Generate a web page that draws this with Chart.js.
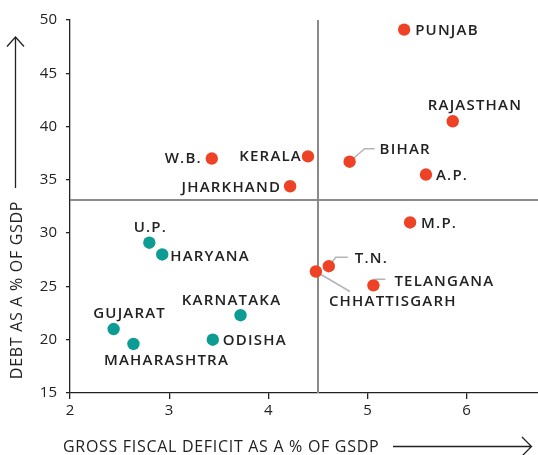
<!DOCTYPE html>
<html>
<head>
<meta charset="utf-8">
<script src="https://cdn.jsdelivr.net/npm/chart.js@4"></script>
<style>
  html, body { margin: 0; padding: 0; background: #fff; }
  #wrap { width: 538px; height: 455px; }
</style>
</head>
<body>
<div id="wrap"><canvas id="chart" width="538" height="455"></canvas></div>
<script>
// High debt or high deficit states (red)
const redStates = ['PUNJAB', 'RAJASTHAN', 'BIHAR', 'A.P.', 'KERALA', 'W.B.', 'JHARKHAND', 'M.P.', 'T.N.', 'CHHATTISGARH', 'TELANGANA'];
const redDeficit = [5.37, 5.86, 4.82, 5.59, 4.40, 3.43, 4.22, 5.43, 4.61, 4.48, 5.06];
const redDebt = [49.1, 40.5, 36.7, 35.5, 37.2, 37.0, 34.4, 31.0, 26.9, 26.4, 25.1];

// Low debt, low deficit states (teal)
const tealStates = ['U.P.', 'HARYANA', 'KARNATAKA', 'GUJARAT', 'ODISHA', 'MAHARASHTRA'];
const tealDeficit = [2.80, 2.93, 3.72, 2.44, 3.44, 2.64];
const tealDebt = [29.1, 28.0, 22.3, 21.0, 20.0, 19.6];

const xTicks = [2, 3, 4, 5, 6];
const yTicks = [15, 20, 25, 30, 35, 40, 45, 50];

// Quadrant reference lines
const refDeficit = 4.5;
const refDebt = 33.1;

const RED = '#ee4227';
const TEAL = '#0c9c94';
const INK = '#222';
const FONT = '"Open Sans", "Noto Sans", sans-serif';

// Label placement relative to each dot (pixels)
const placement = {
    'PUNJAB': { align: 'left', dx: 11, dy: 1 },
    'RAJASTHAN': { align: 'left', dx: -25, dy: -16 },
    'BIHAR': { align: 'left', dx: 30, dy: -12, leader: [[15, -13], [25, -13]] },
    'A.P.': { align: 'left', dx: 10, dy: 1 },
    'KERALA': { align: 'right', dx: -6, dy: 0 },
    'W.B.': { align: 'right', dx: -10, dy: 0 },
    'JHARKHAND': { align: 'right', dx: -9, dy: 1 },
    'M.P.': { align: 'left', dx: 11, dy: 1.5 },
    'T.N.': { align: 'left', dx: 26, dy: -7, leader: [[7, -9], [19, -9]] },
    'CHHATTISGARH': { align: 'left', dx: 13, dy: 30, leader: [[34, 20]] },
    'TELANGANA': { align: 'left', dx: 21, dy: -4, leader: [[2, -6], [12, -6]] },
    'U.P.': { align: 'center', dx: 1, dy: -15 },
    'HARYANA': { align: 'left', dx: 8, dy: 2 },
    'KARNATAKA': { align: 'center', dx: -9, dy: -14.5 },
    'GUJARAT': { align: 'center', dx: 16, dy: -15.5 },
    'ODISHA': { align: 'left', dx: 10, dy: 1 },
    'MAHARASHTRA': { align: 'center', dx: 33, dy: 17 }
};

function toPoints(xs, ys) {
    return xs.map((x, i) => ({ x: x, y: ys[i] }));
}

const annotations = {
    id: 'annotations',
    beforeDatasetsDraw(chart) {
        const { ctx, chartArea: a, scales: { x, y } } = chart;
        ctx.save();
        // quadrant lines
        ctx.strokeStyle = '#8a8a8a';
        ctx.lineWidth = 2;
        const vx = Math.round(x.getPixelForValue(refDeficit));
        const hy = Math.round(y.getPixelForValue(refDebt));
        ctx.beginPath();
        ctx.moveTo(vx, a.top);
        ctx.lineTo(vx, a.bottom);
        ctx.moveTo(a.left, hy);
        ctx.lineTo(a.right, hy);
        ctx.stroke();

        // leader lines
        ctx.strokeStyle = '#b4b4b4';
        ctx.lineWidth = 1.5;
        chart.data.datasets.forEach((ds, di) => {
            const meta = chart.getDatasetMeta(di);
            ds.names.forEach((name, i) => {
                const p = placement[name];
                if (!p || !p.leader) return;
                const el = meta.data[i];
                ctx.beginPath();
                ctx.moveTo(el.x, el.y);
                p.leader.forEach(([lx, ly]) => ctx.lineTo(el.x + lx, el.y + ly));
                ctx.stroke();
            });
        });
        ctx.restore();
    },
    afterDatasetsDraw(chart) {
        const { ctx } = chart;
        ctx.save();
        ctx.font = '600 15px ' + FONT;
        ctx.fillStyle = INK;
        ctx.textBaseline = 'middle';
        ctx.letterSpacing = '1.2px';
        chart.data.datasets.forEach((ds, di) => {
            const meta = chart.getDatasetMeta(di);
            ds.names.forEach((name, i) => {
                const p = placement[name];
                const el = meta.data[i];
                ctx.textAlign = p.align;
                ctx.fillText(name, el.x + p.dx, el.y + p.dy);
            });
        });
        ctx.restore();
    },
    afterDraw(chart) {
        const { ctx } = chart;
        ctx.save();
        ctx.font = '500 16px ' + FONT;
        ctx.fillStyle = INK;
        ctx.strokeStyle = INK;
        ctx.lineWidth = 1.3;
        ctx.letterSpacing = '0.7px';
        ctx.textBaseline = 'middle';

        // x title and arrow
        ctx.textAlign = 'left';
        ctx.fillText('GROSS FISCAL DEFICIT AS A % OF GSDP', 63, 447);
        ctx.beginPath();
        ctx.moveTo(393, 446.5);
        ctx.lineTo(531.5, 446.5);
        ctx.moveTo(522, 437);
        ctx.lineTo(531.5, 446.5);
        ctx.lineTo(522, 456);
        ctx.stroke();

        // y title and arrow
        ctx.save();
        ctx.translate(17, 290);
        ctx.rotate(-Math.PI / 2);
        ctx.textAlign = 'center';
        ctx.fillText('DEBT AS A % OF GSDP', 0, 0);
        ctx.restore();
        ctx.beginPath();
        ctx.moveTo(15.5, 188);
        ctx.lineTo(15.5, 37);
        ctx.moveTo(7, 46.5);
        ctx.lineTo(15.5, 37);
        ctx.lineTo(24, 46.5);
        ctx.stroke();
        ctx.restore();
    }
};

new Chart(document.getElementById('chart'), {
    type: 'scatter',
    data: {
        datasets: [
            {
                names: redStates,
                data: toPoints(redDeficit, redDebt),
                backgroundColor: RED,
                borderWidth: 0,
                pointRadius: 6.2
            },
            {
                names: tealStates,
                data: toPoints(tealDeficit, tealDebt),
                backgroundColor: TEAL,
                borderWidth: 0,
                pointRadius: 6.2
            }
        ]
    },
    options: {
        responsive: false,
        animation: false,
        devicePixelRatio: 1,
        layout: { autoPadding: false, padding: { top: 20, right: 0, left: 0, bottom: 0 } },
        plugins: {
            legend: { display: false },
            tooltip: { enabled: false }
        },
        scales: {
            x: {
                type: 'linear',
                min: 2,
                max: 6.72,
                afterBuildTicks: s => { s.ticks = xTicks.map(v => ({ value: v })); },
                afterFit: s => { s.height = 62; s.paddingLeft = 0; s.paddingRight = 0; },
                grid: { drawOnChartArea: false, tickLength: 6, color: INK, lineWidth: 1.3 },
                border: { color: INK, width: 1.3 },
                ticks: { font: { size: 15, family: FONT, weight: '500' }, color: INK, padding: 3 }
            },
            y: {
                type: 'linear',
                min: 15,
                max: 50,
                afterBuildTicks: s => { s.ticks = yTicks.map(v => ({ value: v })); },
                afterFit: s => { s.width = 70; s.paddingTop = 0; s.paddingBottom = 0; },
                grid: { drawOnChartArea: false, tickLength: 4, color: INK, lineWidth: 1.3 },
                border: { color: INK, width: 1.3 },
                ticks: { font: { size: 15, family: FONT, weight: '500' }, color: INK, padding: 9 }
            }
        }
    },
    plugins: [annotations]
});
</script>
</body>
</html>
